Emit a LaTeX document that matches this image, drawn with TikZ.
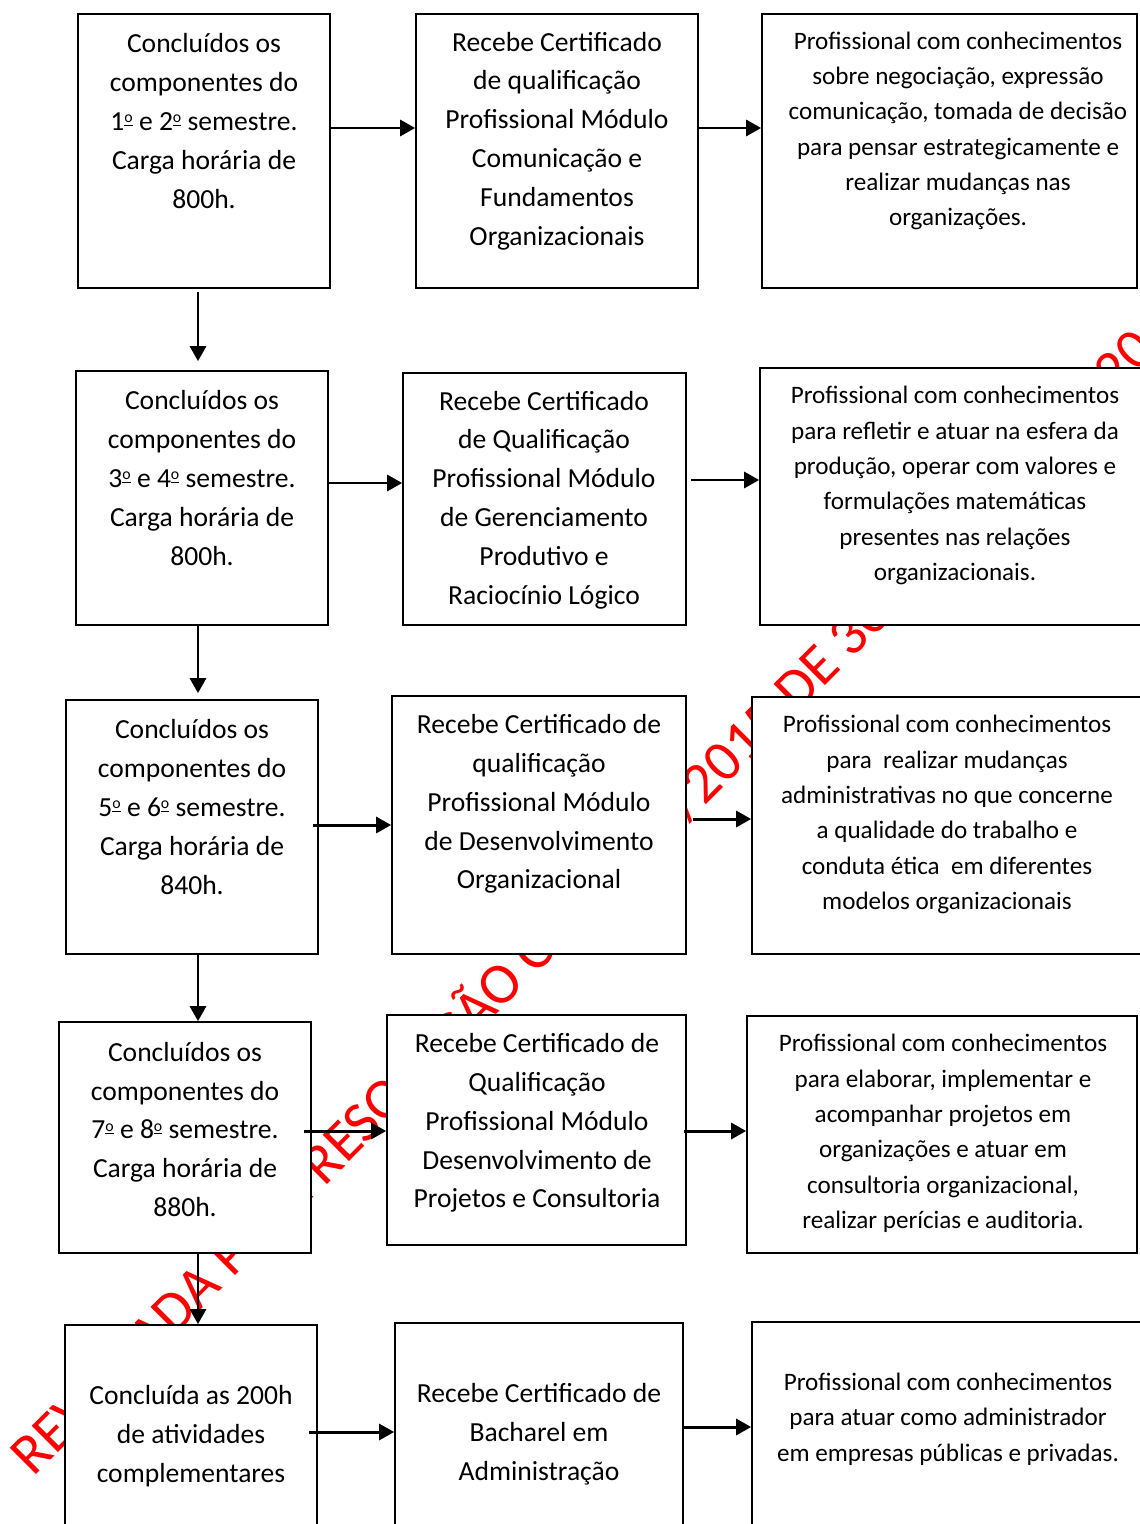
\documentclass[tikz,border=0pt]{standalone}
\usepackage{fontspec}
\setmainfont{Carlito}
\usetikzlibrary{arrows.meta}

% ordinal sign drawn as in the reference (raised o with a bar)
\newcommand{\ordm}{\raisebox{0.28em}{\fontsize{9}{9}\selectfont$\underline{\hbox{o}}$}}

\begin{document}
\begin{tikzpicture}[x=0.02cm, y=-0.02cm,
  block/.style={draw, line width=1pt, fill=white, inner sep=0pt},
  midtxt/.style={align=center, inner sep=0pt, font=\fontsize{15.7}{22.1}\selectfont},
  sidetxt/.style={align=center, inner sep=0pt, font=\fontsize{14.3}{20.1}\selectfont},
  arr/.style={-{Triangle[length=0.3cm, width=0.32cm]}, line width=1.7pt},
  stamp/.style={red, rotate=45, anchor=base west, inner sep=0pt, font=\fontsize{33}{36}\selectfont}]

  \useasboundingbox (0,0) rectangle (1139,1524);

  % Watermark
  \node[stamp] (wm) at (33,1478) {REVOGADA PELA RESOLUÇÃO CS Nº 13\kern0.2em/2015 DE 30 DE MAIO DE 2015};

  % First row
  \node[block, minimum width=5.04cm, minimum height=5.48cm] (A1) at (204,151) {};
  \node[block, minimum width=5.64cm, minimum height=5.48cm] (A2) at (557,151) {};
  \node[block, minimum width=7.5cm, minimum height=5.48cm] (A3) at (949.5,151) {};
  \node[midtxt] (A1t) at (204,121) {Concluídos os\\componentes do\\1\ordm{} e 2\ordm{} semestre.\\Carga horária de\\800h.};
  \node[midtxt] (A2t) at (557,141) {Recebe Certificado\\de qualificação\\Profissional Módulo\\Comunicação e\\Fundamentos\\Organizacionais};
  \node[sidetxt] (A3t) at (958,131) {Profissional com conhecimentos\\sobre negociação, expressão\\comunicação, tomada de decisão\\para pensar estrategicamente e\\realizar mudanças nas\\organizações.};

  % Second row
  \node[block, minimum width=5.04cm, minimum height=5.08cm] (B1) at (202,498) {};
  \node[block, minimum width=5.66cm, minimum height=5.04cm] (B2) at (544.5,499) {};
  \node[block, minimum width=7.8cm, minimum height=5.14cm] (B3) at (955,496.5) {};
  \node[midtxt] (B1t) at (202,478) {Concluídos os\\componentes do\\3\ordm{} e 4\ordm{} semestre.\\Carga horária de\\800h.};
  \node[midtxt] (B2t) at (544,500) {Recebe Certificado\\de Qualificação\\Profissional Módulo\\de Gerenciamento\\Produtivo e\\Raciocínio Lógico};
  \node[sidetxt] (B3t) at (955,485.5) {Profissional com conhecimentos\\para refletir e atuar na esfera da\\produção, operar com valores e\\formulações matemáticas\\presentes nas relações\\organizacionais.};

  % Third row
  \node[block, minimum width=5.04cm, minimum height=5.08cm] (C1) at (192,827) {};
  \node[block, minimum width=5.88cm, minimum height=5.16cm] (C2) at (539,825) {};
  \node[block, minimum width=7.96cm, minimum height=5.14cm] (C3) at (951,825.5) {};
  \node[midtxt] (C1t) at (192,807) {Concluídos os\\componentes do\\5\ordm{} e 6\ordm{} semestre.\\Carga horária de\\840h.};
  \node[midtxt] (C2t) at (539,804) {Recebe Certificado de\\qualificação\\Profissional Módulo\\de Desenvolvimento\\Organizacional};
  \node[sidetxt] (C3t) at (947,814.5) {Profissional com conhecimentos\\para\ \ realizar mudanças\\administrativas no que concerne\\a qualidade do trabalho e\\conduta ética\ \ em diferentes\\modelos organizacionais};

  % Fourth row
  \node[block, minimum width=5.04cm, minimum height=4.62cm] (D1) at (185,1137.5) {};
  \node[block, minimum width=5.98cm, minimum height=4.6cm] (D2) at (536.5,1130) {};
  \node[block, minimum width=7.8cm, minimum height=4.74cm] (D3) at (942,1134.5) {};
  \node[midtxt] (D1t) at (185,1129.5) {Concluídos os\\componentes do\\7\ordm{} e 8\ordm{} semestre.\\Carga horária de\\880h.};
  \node[midtxt] (D2t) at (537,1123) {Recebe Certificado de\\Qualificação\\Profissional Módulo\\Desenvolvimento de\\Projetos e Consultoria};
  \node[sidetxt] (D3t) at (943,1133.5) {Profissional com conhecimentos\\para elaborar, implementar e\\acompanhar projetos em\\organizações e atuar em\\consultoria organizacional,\\realizar perícias e auditoria.};

  % Fifth row
  \node[block, minimum width=5.04cm, minimum height=4.9cm] (E1) at (191,1447.5) {};
  \node[block, minimum width=5.76cm, minimum height=4.94cm] (E2) at (539,1446.5) {};
  \node[block, minimum width=7.96cm, minimum height=4.96cm] (E3) at (951,1446) {};
  \node[midtxt] (E1t) at (191,1436) {Concluída as 200h\\de atividades\\complementares};
  \node[midtxt] (E2t) at (539,1434.5) {Recebe Certificado de\\Bacharel em\\Administração};
  \node[sidetxt] (E3t) at (948,1419) {Profissional com conhecimentos\\para atuar como administrador\\em empresas públicas e privadas.};

  % Arrow levels
  \coordinate (vx) at (198,0);
  \coordinate (r1) at (0,128);
  \coordinate (r2) at (0,483);
  \coordinate (r2b) at (0,480);
  \coordinate (r3) at (0,825);
  \coordinate (r3b) at (0,819);
  \coordinate (r4) at (0,1131);
  \coordinate (r5) at (0,1432);
  \coordinate (r5b) at (0,1427);

  % Horizontal arrows
  \draw[arr] (A1.east |- r1) -- (A2.west |- r1);
  \draw[arr] (A2.east |- r1) -- (A3.west |- r1);
  \draw[arr] (B1.east |- r2) -- (B2.west |- r2);
  \draw[arr, shorten <=0.08cm] (B2.east |- r2b) -- (B3.west |- r2b);
  \draw[arr, shorten <=-0.12cm] (C1.east |- r3) -- (C2.west |- r3);
  \draw[arr, shorten <=0.12cm] (C2.east |- r3b) -- (C3.west |- r3b);
  \draw[arr, shorten <=-0.16cm] (D1.east |- r4) -- (D2.west |- r4);
  \draw[arr, shorten <=-0.06cm] (D2.east |- r4) -- (D3.west |- r4);
  \draw[arr, shorten <=-0.18cm] (E1.east |- r5) -- (E2.west |- r5);
  \draw[arr] (E2.east |- r5b) -- (E3.west |- r5b);

  % Vertical arrows
  \draw[arr, shorten <=0.06cm, shorten >=0.18cm] (A1.south -| vx) -- (B1.north -| vx);
  \draw[arr, shorten >=0.12cm] (B1.south -| vx) -- (C1.north -| vx);
  \draw[arr] (C1.south -| vx) -- (D1.north -| vx);
  \draw[arr] (D1.south -| vx) -- (E1.north -| vx);

\end{tikzpicture}
\end{document}
